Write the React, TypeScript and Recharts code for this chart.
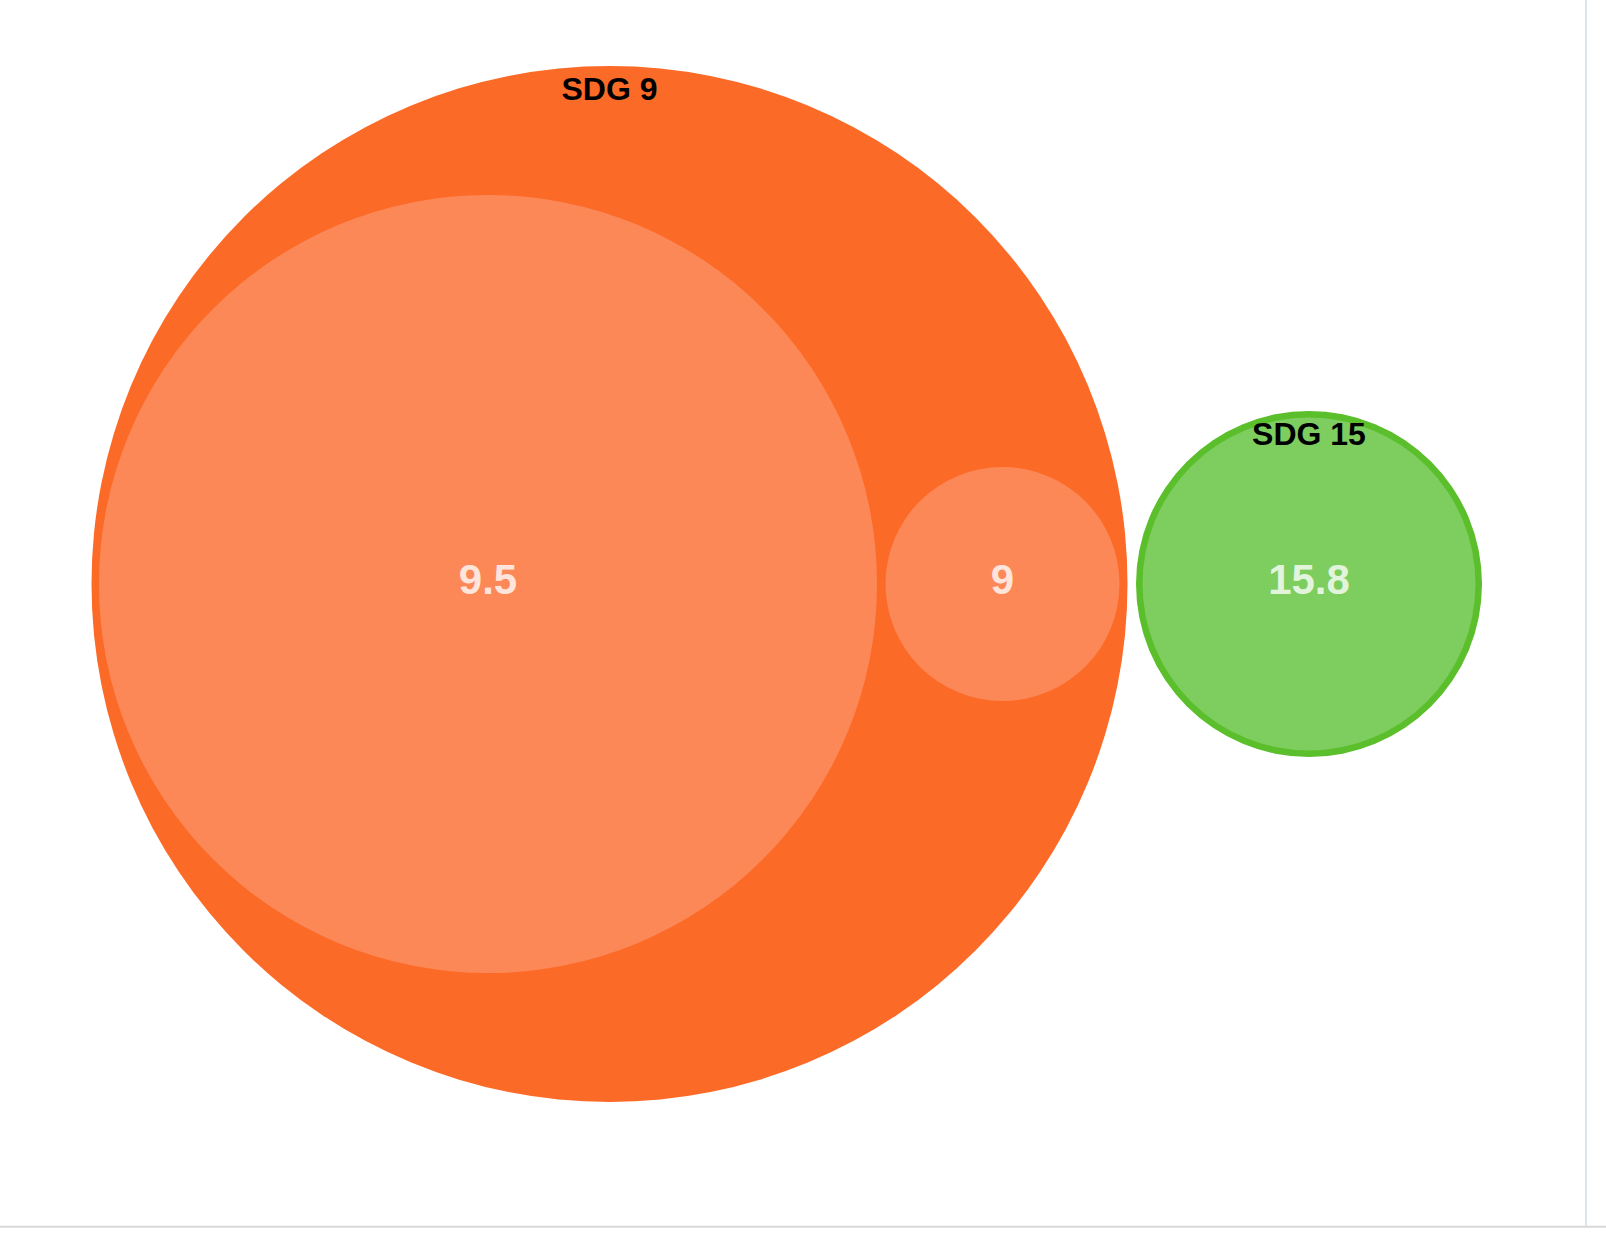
import { ReferenceLine, Scatter, ScatterChart, XAxis, YAxis } from "recharts";

// bubble groups (parents)
const groupNames = ["SDG 9", "SDG 15"];
const groupX = [609.5, 1309];
const groupY = [584, 584];
const groupR = [518, 173];

// bubbles inside each group
const pointGroup = [0, 0, 1];
const pointValues = [9.5, 9, 15.8];
const pointX = [488, 1002.5, 1309];
const pointY = [584, 584, 584];
const pointR = [389, 117, 166.5];

const W = 1606;
const H = 1242;
const X_MAX = 1606;
const Y_MAX = 1242;

const groupColors = ["#fc6a28", "#5abf2b"];
const pointColors = ["#fd8857", "#7dcd5f"];
const FONT = "'Liberation Sans', Arial, Helvetica, sans-serif";

const groups = groupNames.map((name, i) => ({
  name,
  x: groupX[i],
  y: groupY[i],
  r: groupR[i],
  idx: i,
}));

const points = pointValues.map((v, i) => ({
  value: v,
  x: pointX[i],
  y: pointY[i],
  r: pointR[i],
  group: pointGroup[i],
}));

const kx = W / X_MAX;

const GroupShape = (props: any) => {
  const { cx, cy, payload } = props;
  return <circle cx={cx} cy={cy} r={payload.r * kx} fill={groupColors[payload.idx]} />;
};

const PointShape = (props: any) => {
  const { cx, cy, payload } = props;
  return (
    <g>
      <circle cx={cx} cy={cy} r={payload.r * kx} fill={pointColors[payload.group]} />
      <text
        x={cx}
        y={cy - 5}
        textAnchor="middle"
        dominantBaseline="central"
        fontFamily={FONT}
        fontWeight="bold"
        fontSize={42}
        fill="rgba(255,255,255,0.8)"
      >
        {payload.value}
      </text>
    </g>
  );
};

const GroupLabel = (props: any) => {
  const { cx, cy, payload } = props;
  const top = cy - payload.r * kx;
  return (
    <text
      x={cx}
      y={top + 23}
      textAnchor="middle"
      dominantBaseline="central"
      fontFamily={FONT}
      fontWeight="bold"
      fontSize={32}
      fill="#000000"
    >
      {payload.name}
    </text>
  );
};

export default function App() {
  return (
    <div style={{ position: "absolute", left: 0, top: 0 }}>
      <ScatterChart width={W} height={H} margin={{ top: 0, right: 0, bottom: 0, left: 0 }}>
        <XAxis type="number" dataKey="x" domain={[0, X_MAX]} hide />
        <YAxis type="number" dataKey="y" domain={[0, Y_MAX]} reversed hide />
        <ReferenceLine
          segment={[
            { x: 1586, y: 0 },
            { x: 1586, y: 1226 },
          ]}
          stroke="#dbe5f1"
          strokeWidth={2}
        />
        <ReferenceLine y={1226.8} stroke="#d8d8d8" strokeWidth={2} />
        <Scatter data={groups} shape={<GroupShape />} isAnimationActive={false} />
        <Scatter data={points} shape={<PointShape />} isAnimationActive={false} />
        <Scatter data={groups} shape={<GroupLabel />} isAnimationActive={false} />
      </ScatterChart>
    </div>
  );
}
